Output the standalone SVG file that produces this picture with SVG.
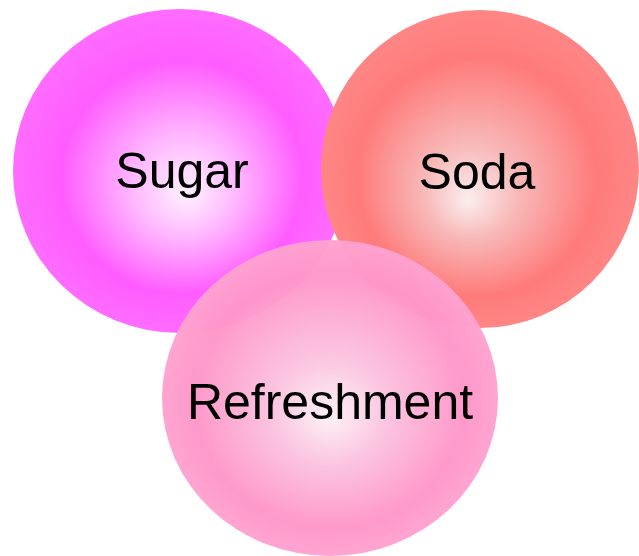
<svg xmlns="http://www.w3.org/2000/svg" width="639" height="556" viewBox="0 0 639 556">
<defs>
<radialGradient id="gSugar" cx="0.5" cy="0.5" r="0.5" fx="0.52" fy="0.57">
<stop offset="0" stop-color="#fff2ff"/>
<stop offset="0.3" stop-color="#ffbaff"/>
<stop offset="0.72" stop-color="#ff5cff"/>
<stop offset="1" stop-color="#ff6cff"/>
</radialGradient>
<radialGradient id="gSoda" cx="0.5" cy="0.5" r="0.5" fx="0.46" fy="0.6">
<stop offset="0" stop-color="#fbeeee"/>
<stop offset="0.3" stop-color="#f8b8b8"/>
<stop offset="0.75" stop-color="#ff7a7a"/>
<stop offset="1" stop-color="#ff8686"/>
</radialGradient>
<radialGradient id="gRef" cx="0.5" cy="0.5" r="0.5" fx="0.5" fy="0.56">
<stop offset="0" stop-color="#fdf0f7"/>
<stop offset="0.35" stop-color="#fbc2de"/>
<stop offset="0.8" stop-color="#ff96c9"/>
<stop offset="1" stop-color="#ffa2d0"/>
</radialGradient>
<style>
.lbl{font-family:"Liberation Sans",Arial,sans-serif;font-size:50px;fill:#000;text-anchor:middle}
</style>
</defs>
<g id="sugar">
<ellipse cx="180" cy="171" rx="167" ry="162" fill="url(#gSugar)"/>
<text class="lbl" x="182" y="188">Sugar</text>
</g>
<g id="soda">
<ellipse cx="480" cy="169" rx="159" ry="159" fill="url(#gSoda)"/>
<text class="lbl" x="477" y="189">Soda</text>
</g>
<g id="refreshment">
<ellipse cx="330" cy="398" rx="168" ry="158" fill="url(#gRef)" opacity="0.97"/>
<text class="lbl" x="330" y="419">Refreshment</text>
</g>
<g id="connectors"/>
</svg>
